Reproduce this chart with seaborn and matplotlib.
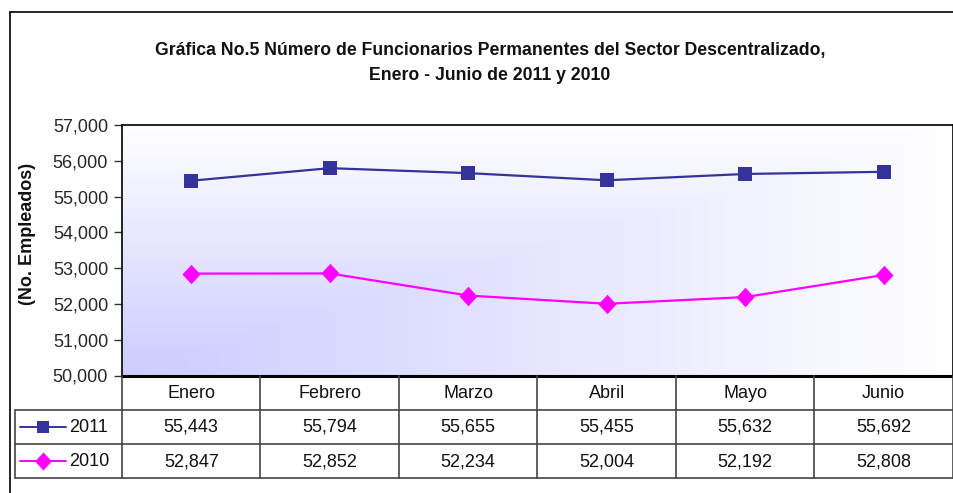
import numpy as np
import pandas as pd
import matplotlib
matplotlib.use("Agg")
import matplotlib.pyplot as plt
from matplotlib.lines import Line2D
import seaborn as sns

months = ["Enero", "Febrero", "Marzo", "Abril", "Mayo", "Junio"]
vals_2011 = [55443, 55794, 55655, 55455, 55632, 55692]
vals_2010 = [52847, 52852, 52234, 52004, 52192, 52808]
series_names = ["2011", "2010"]
yticks = [50000, 51000, 52000, 53000, 54000, 55000, 56000, 57000]

title = ("Gráfica No.5 Número de Funcionarios Permanentes del Sector Descentralizado,\n"
         "Enero - Junio de 2011 y 2010")
ylabel = "(No. Empleados)"

sns.set_theme(style="white")
plt.rcParams['font.family'] = ['Liberation Sans', 'DejaVu Sans']

W, H = 954, 493
fig = plt.figure(figsize=(W / 100, H / 100), dpi=100)
fig.patch.set_facecolor("white")

ax_l, ax_r, ax_t, ax_b = 122, 953, 125, 375.5
ax = fig.add_axes([ax_l / W, 1 - ax_b / H, (ax_r - ax_l) / W, (ax_b - ax_t) / H])
ax.set_xlim(-0.5, 5.5)
ax.set_ylim(50000, 57000)

# gradient background (from bottom-left corner)
nx, ny = 400, 200
xf = np.linspace(0, 1, nx)[None, :]
yf = np.linspace(1, 0, ny)[:, None]
t = np.maximum(xf, yf)
c0 = np.array([204, 204, 255]) / 255.0
img = c0[None, None, :] + (1 - c0)[None, None, :] * t[:, :, None]
ax.imshow(img, extent=(-0.5, 5.5, 50000, 57000), aspect='auto', zorder=0, origin='upper')

diamond = [(0, 1), (0.93, 0), (0, -1), (-0.93, 0), (0, 1)]
markers = {"2011": "s", "2010": diamond}
msizes = {"2011": 9.5, "2010": 14}

df = pd.DataFrame({
    "x": list(range(6)) * 2,
    "value": vals_2011 + vals_2010,
    "year": [series_names[0]] * 6 + [series_names[1]] * 6,
})
colors = {"2011": "#333399", "2010": "#FF00FF"}
for name in series_names:
    sns.lineplot(data=df[df.year == name], x="x", y="value", color=colors[name],
                 marker=markers[name], markersize=msizes[name], markeredgewidth=0,
                 linewidth=1.6, ax=ax, zorder=3)
ax.set_xlabel("")
ax.set_ylabel("")
ax.set_xticks([])
ax.set_yticks(yticks)
ax.set_yticklabels([f"{v:,}" for v in yticks], fontsize=13)
ax.tick_params(axis='y', direction='out', length=6, width=1, color='#333333', pad=4, left=True)
for s in ["left", "top", "right"]:
    ax.spines[s].set_color("black")
    ax.spines[s].set_linewidth(1.2)
ax.spines["bottom"].set_color("black")
ax.spines["bottom"].set_linewidth(2.2)

# data table
tb_l, tb_r, tb_t, tb_b = 15, 953, 375.5, 478
cat_w = (ax_r - ax_l) / 6.0
x_min = -0.5 - (ax_l - tb_l) / cat_w
tax = fig.add_axes([tb_l / W, 1 - tb_b / H, (tb_r - tb_l) / W, (tb_b - tb_t) / H])
tax.set_xlim(x_min, 5.5)
tax.set_ylim(3, 0)
tax.axis("off")
lc = "#444444"
for i in range(7):
    tax.plot([i - 0.5, i - 0.5], [0, 3], color=lc, lw=1.2, clip_on=False)
tax.plot([x_min, x_min], [1, 3], color=lc, lw=1.2, clip_on=False)
for yy in [1, 2, 3]:
    tax.plot([x_min, 5.5], [yy, yy], color=lc, lw=1.2, clip_on=False)

def px2x(px):
    return x_min + (px - tb_l) / cat_w

for i, m in enumerate(months):
    tax.text(i, 0.52, m, ha='center', va='center', fontsize=13, color='#111111')
for r, (name, vals) in enumerate(zip(series_names, [vals_2011, vals_2010])):
    yy = 1.5 + r
    for i, v in enumerate(vals):
        tax.text(i, yy + 0.02, f"{v:,}", ha='center', va='center', fontsize=13, color='#111111')
    tax.plot([px2x(20), px2x(66)], [yy, yy], color=colors[name], lw=1.4, clip_on=False)
    tax.plot([px2x(43)], [yy], marker=markers[name], markersize=msizes[name] - 1,
             color=colors[name], markeredgewidth=0, clip_on=False)
    tax.text(px2x(69), yy + 0.02, name, ha='left', va='center', fontsize=13, color='#111111')

# title and y label
fig.text(490 / W, 1 - 63 / H, title, ha='center', va='center', fontsize=12.7,
         fontweight='bold', color='#111111', linespacing=1.6)
fig.text(28 / W, 1 - 233.5 / H, ylabel, ha='center', va='center', rotation=90,
         fontsize=13, fontweight='bold', color='#111111')

# outer chart frame
fig.add_artist(Line2D([10.5 / W, 10.5 / W], [1 - 12 / H, 0], color='black', lw=1.2,
                      transform=fig.transFigure))
fig.add_artist(Line2D([10.5 / W, 1], [1 - 12 / H, 1 - 12 / H], color='black', lw=1.2,
                      transform=fig.transFigure))

fig.savefig("out.png", dpi=100)
